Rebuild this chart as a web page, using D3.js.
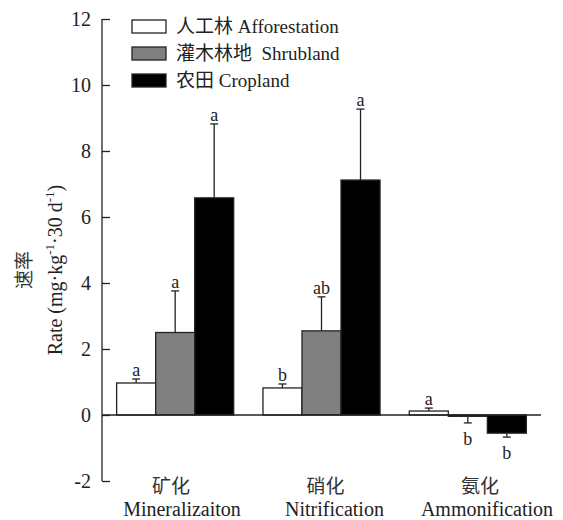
<!DOCTYPE html>
<html>
<head>
<meta charset="utf-8">
<script src="https://cdn.jsdelivr.net/npm/d3@7"></script>
<style>
  body { margin: 0; background: #fff; }
  text { font-family: "Liberation Serif", "Times New Roman", "Noto Sans CJK SC", serif; fill: #222; }
  .zh { font-family: "Noto Sans CJK SC", "Liberation Serif", serif; }
</style>
</head>
<body>
<svg width="563" height="520"></svg>
<script>
var categories = ["Mineralizaiton", "Nitrification", "Ammonification"];
var categoriesZh = ["矿化", "硝化", "氨化"];
var seriesNames = ["人工林 Afforestation", "灌木林地  Shrubland", "农田 Cropland"];
var seriesFill = ["#fff", "#808080", "#000"];

var afforestation = [0.97, 0.82, 0.12];
var afforestationErr = [0.12, 0.12, 0.09];
var afforestationSig = ["a", "b", "a"];

var shrubland = [2.5, 2.55, -0.04];
var shrublandErr = [1.26, 1.03, 0.2];
var shrublandSig = ["a", "ab", "b"];

var cropland = [6.58, 7.12, -0.55];
var croplandErr = [2.24, 2.15, 0.12];
var croplandSig = ["a", "a", "b"];

var yTicks = [-2, 0, 2, 4, 6, 8, 10, 12];

var svg = d3.select("svg");

var y = d3.scaleLinear().domain([-2, 12]).range([481, 19]);
var x0 = d3.scaleBand().domain(categories).range([102, 541]).paddingInner(0.2).paddingOuter(0.1);
var x1 = d3.scaleBand().domain(d3.range(3)).range([0, x0.bandwidth()]);
// category labels sit a little right of the group centres
var xLabelEn = d3.scalePoint().domain(categories).range([182, 487]);
var xLabelZh = d3.scalePoint().domain(categories).range([171, 480]);

var values = [afforestation, shrubland, cropland],
    errs = [afforestationErr, shrublandErr, croplandErr],
    sigs = [afforestationSig, shrublandSig, croplandSig];

var bars = [];
categories.forEach(function (c, i) {
    values.forEach(function (v, s) {
        bars.push({cat: c, s: s, v: v[i], e: errs[s][i], sig: sigs[s][i]});
    });
});

// axis
var yAxis = d3.axisLeft(y).tickValues(yTicks).tickSize(-8).tickPadding(11)
    .tickFormat(function (d) { return String(d); });
var g = svg.append("g").attr("transform", "translate(102,0)").call(yAxis)
    .attr("font-family", null).attr("font-size", null);
g.select(".domain").remove();
g.selectAll(".tick line").attr("stroke", "#222").attr("stroke-width", 1.3);
g.selectAll(".tick text")
    .style("font-family", "'Liberation Serif', 'Times New Roman', serif")
    .style("font-size", "20px").attr("fill", "#222").attr("dy", "0.34em");
svg.append("line").attr("x1", 102).attr("x2", 102).attr("y1", y(12)).attr("y2", y(-2))
    .attr("stroke", "#222").attr("stroke-width", 1.3);

// error bars
var eb = svg.selectAll(".err").data(bars).enter().append("g").attr("class", "err");
eb.each(function (d) {
    var cx = x0(d.cat) + x1(d.s) + x1.bandwidth() / 2;
    var yEnd = d.v >= 0 ? y(d.v + d.e) : y(d.v - d.e);
    var sel = d3.select(this);
    sel.append("line").attr("x1", cx).attr("x2", cx).attr("y1", y(d.v)).attr("y2", yEnd)
        .attr("stroke", "#222").attr("stroke-width", 1.3);
    sel.append("line").attr("x1", cx - 4).attr("x2", cx + 4).attr("y1", yEnd).attr("y2", yEnd)
        .attr("stroke", "#222").attr("stroke-width", 1.3);
    sel.append("text").attr("x", cx).attr("y", d.v >= 0 ? yEnd - 3 : yEnd + 22)
        .attr("text-anchor", "middle").style("font-size", "18px").text(d.sig);
});

// bars
svg.selectAll(".bar").data(bars).enter().append("rect")
    .attr("class", "bar")
    .attr("x", function (d) { return x0(d.cat) + x1(d.s); })
    .attr("y", function (d) { return y(Math.max(0, d.v)); })
    .attr("width", x1.bandwidth())
    .attr("height", function (d) { return Math.abs(y(d.v) - y(0)); })
    .attr("fill", function (d) { return seriesFill[d.s]; })
    .attr("stroke", "#222").attr("stroke-width", 1.3);

// zero line
svg.append("line").attr("x1", 102).attr("x2", 541).attr("y1", y(0)).attr("y2", y(0))
    .attr("stroke", "#222").attr("stroke-width", 1.3);

// category labels
categories.forEach(function (c, i) {
    svg.append("text").attr("class", "zh").attr("x", xLabelZh(c)).attr("y", 493)
        .attr("text-anchor", "middle").style("font-size", "19px").style("fill", "#333")
        .text(categoriesZh[i]);
    svg.append("text").attr("x", xLabelEn(c)).attr("y", 516)
        .attr("text-anchor", "middle").style("font-size", "20px").text(c);
});

// legend
var lg = svg.selectAll(".legend").data(seriesNames).enter().append("g")
    .attr("class", "legend")
    .attr("transform", function (d, i) { return "translate(132," + (20 + i * 27) + ")"; });
lg.append("rect").attr("width", 34).attr("height", 13)
    .attr("fill", function (d, i) { return seriesFill[i]; })
    .attr("stroke", "#222").attr("stroke-width", 1.3);
lg.append("text").attr("x", 44).attr("y", 13).style("font-size", "19px")
    .style("white-space", "pre").attr("xml:space", "preserve").text(function (d) { return d; });

// y label
svg.append("text").attr("class", "zh")
    .attr("transform", "translate(31,270) rotate(-90)")
    .attr("text-anchor", "middle").style("font-size", "19px").style("fill", "#333").text("速率");
var yl = svg.append("text")
    .attr("transform", "translate(62,270) rotate(-90)")
    .attr("text-anchor", "middle").style("font-size", "20px");
yl.append("tspan").text("Rate (mg·kg");
yl.append("tspan").attr("dy", -8).style("font-size", "13px").text("-1");
yl.append("tspan").attr("dy", 8).text("·30 d");
yl.append("tspan").attr("dy", -8).style("font-size", "13px").text("-1");
yl.append("tspan").attr("dy", 8).text(")");
</script>
</body>
</html>
